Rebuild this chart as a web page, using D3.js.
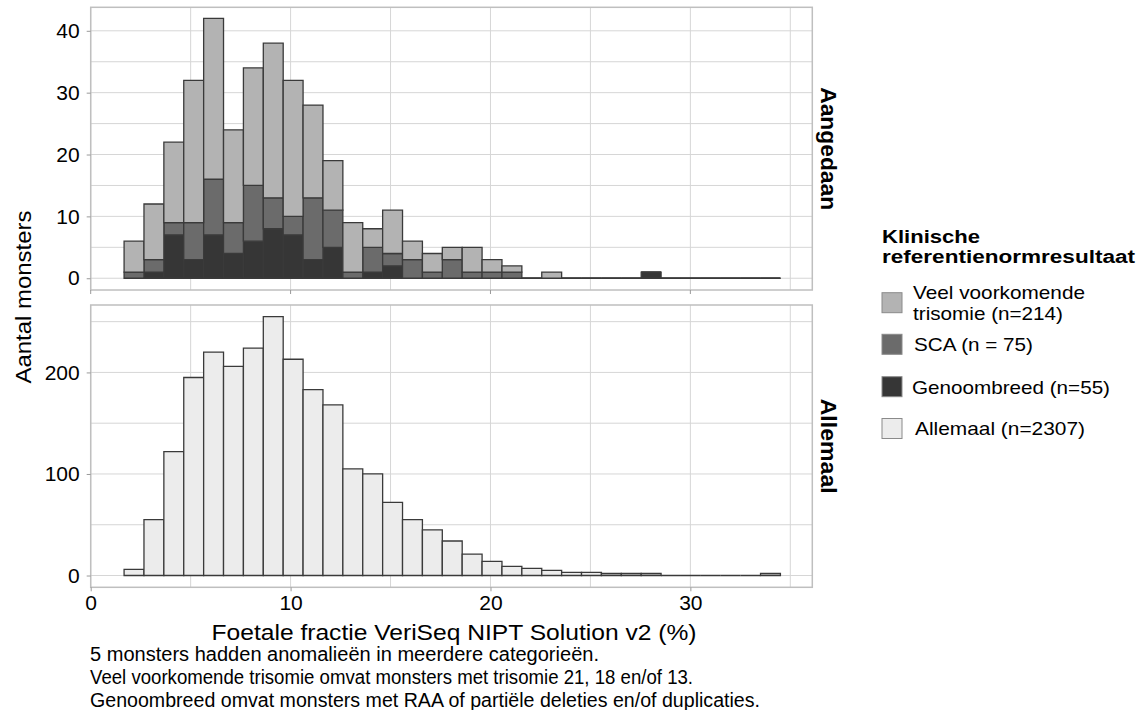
<!DOCTYPE html>
<html><head><meta charset="utf-8">
<script src="https://cdn.jsdelivr.net/npm/d3@7"></script>
<style>
body{margin:0;background:#fff}
text{font-family:"Liberation Sans",Arial,Helvetica,sans-serif;fill:#000}
</style>
</head><body><svg id="c" width="1138" height="710"></svg>
<script>
// ---- data ----
const binStart = 1.67;
const binWidth = 0.995;
const trisomie    = [5,9,13,23,26,15,19,25,22,15,8,8,3,7,3,3,2,4,2,1,0,1,0,0,0,0,0,0,0,0,0,0,0];
const sca         = [1,2,2,6,9,5,9,5,3,10,6,1,4,2,3,1,3,1,1,1,0,0,0,0,0,0,0,0,0,0,0,0,0];
const genoombreed = [0,1,7,3,7,4,6,8,7,3,5,0,1,2,0,0,0,0,0,0,0,0,0,0,0,0,1,0,0,0,0,0,0];
const allemaal    = [6,55,122,195,220,206,224,255,213,183,168,105,100,72,55,45,34,21,14,9,7,5,3,3,2,2,2,0,0,0,0,0,2];
const xTicks = [0,10,20,30];
const xMinor = [5,15,25,35];
const topTicks = [0,10,20,30,40];
const topMinor = [5,15,25,35];
const bottomTicks = [0,100,200];
const bottomMinor = [50,150,250];
const panelLabels = ["Aangedaan","Allemaal"];
const legendTitle = ["Klinische","referentienormresultaat"];
const legendLabels = [["Veel voorkomende","trisomie (n=214)"],["SCA (n = 75)"],["Genoombreed (n=55)"],["Allemaal (n=2307)"]];
const xTitle = "Foetale fractie VeriSeq NIPT Solution v2 (%)";
const yTitle = "Aantal monsters";
const captions = ["5 monsters hadden anomalieën in meerdere categorieën.",
  "Veel voorkomende trisomie omvat monsters met trisomie 21, 18 en/of 13.",
  "Genoombreed omvat monsters met RAA of partiële deleties en/of duplicaties."];

// ---- styles ----
const colors = {tri:"#b3b3b3", sca:"#6b6b6b", geno:"#363636", all:"#ececec"};
const barStroke = "#3a3a3a";
const gridColor = "#d6d6d6";
const borderColor = "#bfbfbf";

const svg = d3.select("#c");
const L = 90.7, R = 812.3;
const x = d3.scaleLinear().domain([0,36.1]).range([L,R]);
const panels = [
  {y0:7.3, y1:290, y: d3.scaleLinear().domain([-1.9,43.8]).range([290,7.3]), ticks:topTicks, minor:topMinor},
  {y0:305, y1:587.3, y: d3.scaleLinear().domain([-11.6,266.4]).range([587.3,305]), ticks:bottomTicks, minor:bottomMinor}
];

const bins = d3.range(trisomie.length).map(i => ({x0: binStart + i*binWidth, x1: binStart + (i+1)*binWidth}));
const barPath = (xa, xb, ya, yb) => `M${xa},${ya}H${xb}V${yb}H${xa}Z`;

panels.forEach((p,pi) => {
  const g = svg.append("g");
  g.append("rect").attr("x",L).attr("y",p.y0).attr("width",R-L).attr("height",p.y1-p.y0).attr("fill","#fff");
  const gx = g.append("g");
  gx.selectAll("line.vx").data(xTicks.concat(xMinor)).join("line")
    .attr("x1",d=>x(d)).attr("x2",d=>x(d)).attr("y1",p.y0).attr("y2",p.y1)
    .attr("stroke",gridColor).attr("stroke-width",1);
  gx.selectAll("line.hy").data(p.ticks.concat(p.minor)).join("line")
    .attr("y1",d=>p.y(d)).attr("y2",d=>p.y(d)).attr("x1",L).attr("x2",R)
    .attr("stroke",gridColor).attr("stroke-width",1);
  const bg = g.append("g").attr("stroke",barStroke).attr("stroke-width",1.3);
  if (pi === 0) {
    const rows = bins.map((b,i) => ({...b, geno: genoombreed[i], sca: sca[i], tri: trisomie[i]}));
    const stack = d3.stack().keys(["geno","sca","tri"])(rows);
    stack.forEach(layer => {
      bg.append("g").attr("fill", colors[layer.key]).selectAll("path").data(layer).join("path")
        .attr("d", d => barPath(x(d.data.x0), x(d.data.x1), p.y(d[1]), p.y(d[0])));
    });
  } else {
    bg.append("g").attr("fill", colors.all).selectAll("path").data(bins.map((b,i)=>({...b, v: allemaal[i]}))).join("path")
      .attr("d", d => barPath(x(d.x0), x(d.x1), p.y(d.v), p.y(0)));
  }
  g.append("rect").attr("x",L).attr("y",p.y0).attr("width",R-L).attr("height",p.y1-p.y0)
    .attr("fill","none").attr("stroke",borderColor).attr("stroke-width",1.5);
  const ay = g.append("g").attr("transform",`translate(${L},0)`)
    .call(d3.axisLeft(p.y).tickValues(p.ticks).tickSize(4).tickPadding(7).tickFormat(d3.format("d")));
  ay.select(".domain").remove();
  ay.selectAll(".tick line").attr("stroke","#9a9a9a");
  ay.selectAll(".tick text").style("font-size","21px").attr("fill","#000");
  const cy = (p.y0+p.y1)/2;
  g.append("text").attr("transform",`translate(821,${cy}) rotate(90)`)
    .attr("text-anchor","middle").style("font-size","22px").style("font-weight","bold")
    .attr("textLength", pi===0 ? 123 : 95).attr("lengthAdjust","spacingAndGlyphs")
    .text(panelLabels[pi]);
});

const ax = svg.append("g").attr("transform",`translate(0,${panels[1].y1})`)
  .call(d3.axisBottom(x).tickValues(xTicks).tickSize(4).tickPadding(4).tickFormat(d3.format("d")));
ax.select(".domain").remove();
ax.selectAll(".tick line").attr("stroke","#9a9a9a");
ax.selectAll(".tick text").style("font-size","21px").attr("fill","#000");
svg.append("g").selectAll("line").data(xTicks).join("line")
  .attr("x1",d=>x(d)).attr("x2",d=>x(d)).attr("y1",panels[0].y1).attr("y2",panels[0].y1+4)
  .attr("stroke","#9a9a9a");

svg.append("text").attr("x",454).attr("y",640).attr("text-anchor","middle")
  .style("font-size","22px").attr("textLength",485).attr("lengthAdjust","spacingAndGlyphs").text(xTitle);
svg.append("text").attr("transform","translate(31,297) rotate(-90)").attr("text-anchor","middle")
  .style("font-size","22px").attr("textLength",173).attr("lengthAdjust","spacingAndGlyphs").text(yTitle);

const capLen = [509, 603, 670];
captions.forEach((c,i) => {
  svg.append("text").attr("x",90).attr("y",661+i*23).style("font-size","20px")
    .attr("textLength",capLen[i]).attr("lengthAdjust","spacingAndGlyphs").text(c);
});

const lg = svg.append("g");
const titleLen = [98, 253];
legendTitle.forEach((t,i)=>{
  lg.append("text").attr("x",882).attr("y",242.5+i*20).style("font-size","18px").style("font-weight","bold")
    .attr("textLength",titleLen[i]).attr("lengthAdjust","spacingAndGlyphs").text(t);
});
const keyY = [292.7,334.3,376.7,418.5];
const keyFill = [colors.tri, colors.sca, colors.geno, colors.all];
const labelLen = [[172,150],[119],[198],[170]];
const labelX = [913,914,912,915];
legendLabels.forEach((lines,i)=>{
  lg.append("rect").attr("x",882).attr("y",keyY[i]).attr("width",20).attr("height",20)
    .attr("fill",keyFill[i]).attr("stroke","#8a8a8a").attr("stroke-width",1);
  const midY = keyY[i]+10;
  const n = lines.length;
  lines.forEach((t,j)=>{
    lg.append("text").attr("x",labelX[i]).attr("y", midY + (j-(n-1)/2)*20.5).attr("dy","0.36em")
      .style("font-size","19px").attr("textLength",labelLen[i][j]).attr("lengthAdjust","spacingAndGlyphs").text(t);
  });
});
</script></body></html>
